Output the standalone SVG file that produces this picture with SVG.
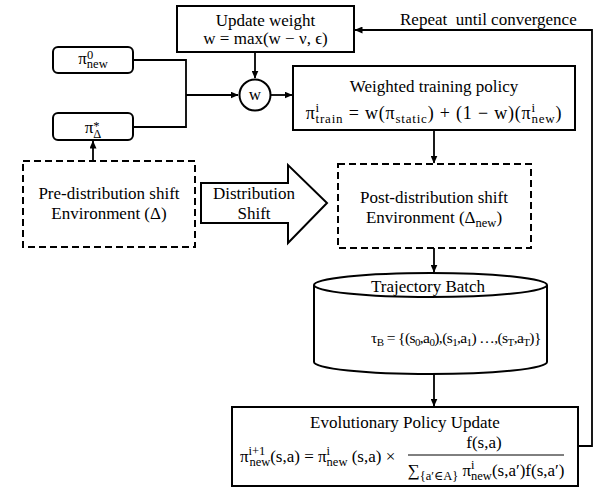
<svg xmlns="http://www.w3.org/2000/svg" width="598" height="498" viewBox="0 0 598 498">
<style>
text{font-family:"Liberation Serif","DejaVu Serif",serif;font-size:17px;fill:#000}
.m{text-anchor:middle}
.s{font-size:12.5px}
.box{fill:#fff;stroke:#000;stroke-width:2}
.dash{fill:#fff;stroke:#000;stroke-width:2;stroke-dasharray:7 4}
.ln{fill:none;stroke:#000;stroke-width:1.8}
.f1{font-size:18px;letter-spacing:0.8px}
.f1 .s{font-size:13px}
.f2{font-size:15.5px;letter-spacing:-0.6px}
.f2 .s{font-size:11px}
</style>
<defs>
<marker id="ah" markerUnits="userSpaceOnUse" markerWidth="8" markerHeight="7" refX="7.5" refY="3.5" orient="auto">
<path d="M0,0 L8,3.5 L0,7 Z" fill="#000"/>
</marker>
</defs>
<rect width="598" height="498" fill="#fff"/>

<g id="connectors">
<path class="ln" d="M133,60 H186 V127 H133"/>
<path class="ln" d="M186,95 H238" marker-end="url(#ah)"/>
<path class="ln" d="M255,52 V78" marker-end="url(#ah)"/>
<path class="ln" d="M271,95 H292" marker-end="url(#ah)"/>
<path class="ln" d="M93,161 V141" marker-end="url(#ah)"/>
<path class="ln" d="M434,130 V163" marker-end="url(#ah)"/>
<path class="ln" d="M434,248 V272" marker-end="url(#ah)"/>
<path class="ln" d="M434,373 V406" marker-end="url(#ah)"/>
<path class="ln" d="M575,446 H592 V30 H355" marker-end="url(#ah)"/>
<text x="400" y="25">Repeat&#160; until convergence</text>
</g>

<g id="update-weight">
<rect class="box" x="177" y="6" width="177" height="46"/>
<text x="265.5" y="26" class="m">Update weight</text>
<text x="265.5" y="44" class="m">w = max(w − ν, ϵ)</text>
</g>

<g id="w-node">
<circle cx="255" cy="95" r="15.5" fill="#fff" stroke="#000" stroke-width="2"/>
<text x="255" y="100" class="m">w</text>
</g>

<g id="pi-new0">
<rect class="box" x="53" y="47" width="80" height="26" rx="5"/>
<text x="93" y="64" class="m">π<tspan class="s" dy="-5">0</tspan><tspan class="s" dx="-6.3" dy="9">new</tspan></text>
</g>

<g id="pi-delta">
<rect class="box" x="53" y="113" width="80" height="27" rx="5"/>
<text x="93" y="133" class="m">π<tspan class="s" dy="-3">*</tspan><tspan class="s" dx="-6.3" dy="8">Δ</tspan></text>
</g>

<g id="weighted-policy">
<rect class="box" x="293" y="66" width="282" height="64"/>
<text x="434" y="92" class="m">Weighted training policy</text>
<text x="434" y="119" class="m f1">π<tspan class="s" dy="-7">i</tspan><tspan class="s" dx="-4.4" dy="11">train</tspan><tspan dy="-4"> = w(π</tspan><tspan class="s" dy="4">static</tspan><tspan dy="-4">) + (1 − w)(π</tspan><tspan class="s" dy="-7">i</tspan><tspan class="s" dx="-4.4" dy="11">new</tspan><tspan dy="-4">)</tspan></text>
</g>

<g id="pre-env">
<rect class="dash" x="23" y="161" width="172" height="86"/>
<text x="109" y="199" class="m">Pre-distribution shift</text>
<text x="109" y="219" class="m">Environment (Δ)</text>
</g>

<g id="distribution-shift">
<polygon points="201,183 288,183 288,165 327,203 288,243 288,223 201,223" fill="#fff" stroke="#000" stroke-width="2" stroke-linejoin="miter"/>
<text x="254" y="199" class="m">Distribution</text>
<text x="254" y="219" class="m">Shift</text>
</g>

<g id="post-env">
<rect class="dash" x="338" y="164" width="193" height="84"/>
<text x="434" y="203" class="m">Post-distribution shift</text>
<text x="434" y="223" class="m">Environment (Δ<tspan class="s" dy="4">new</tspan><tspan dy="-4">)</tspan></text>
</g>

<g id="trajectory-batch">
<path d="M314,285 A116.5,12 0 0 1 547,285 V362 A116.5,12 0 0 1 314,362 Z" fill="#fff" stroke="#000" stroke-width="2"/>
<path d="M314,285 A116.5,12 0 0 0 547,285" fill="none" stroke="#000" stroke-width="2"/>
<text x="428" y="292" class="m">Trajectory Batch</text>
<text x="371" y="343" class="f2">τ<tspan class="s" dy="3">B</tspan><tspan dy="-3"> = {(s</tspan><tspan class="s" dy="3">0</tspan><tspan dy="-3">,a</tspan><tspan class="s" dy="3">0</tspan><tspan dy="-3">),(s</tspan><tspan class="s" dy="3">1</tspan><tspan dy="-3">,a</tspan><tspan class="s" dy="3">1</tspan><tspan dy="-3">) …,(s</tspan><tspan class="s" dy="3">T</tspan><tspan dy="-3">,a</tspan><tspan class="s" dy="3">T</tspan><tspan dy="-3">)}</tspan></text>
</g>

<g id="evolutionary-update">
<rect class="box" x="232" y="407" width="346" height="79"/>
<text x="405" y="428" class="m">Evolutionary Policy Update</text>
<text x="240" y="462">π<tspan class="s" dy="-7">i+1</tspan><tspan class="s" dx="-16" dy="11">new</tspan><tspan dy="-4">(s,a) =  π</tspan><tspan class="s" dy="-7">i</tspan><tspan class="s" dx="-3.5" dy="11">new</tspan><tspan dy="-4"> (s,a) ×</tspan></text>
<text x="484" y="448" class="m">f(s,a)</text>
<line x1="408" y1="455" x2="564" y2="455" stroke="#000" stroke-width="1"/>
<text x="486" y="476" class="m">∑<tspan class="s" dy="4">{a′∈A}</tspan><tspan dy="-4"> π</tspan><tspan class="s" dy="-7">i</tspan><tspan class="s" dx="-3.5" dy="11">new</tspan><tspan dy="-4">(s,a′)f(s,a′)</tspan></text>
</g>
</svg>
